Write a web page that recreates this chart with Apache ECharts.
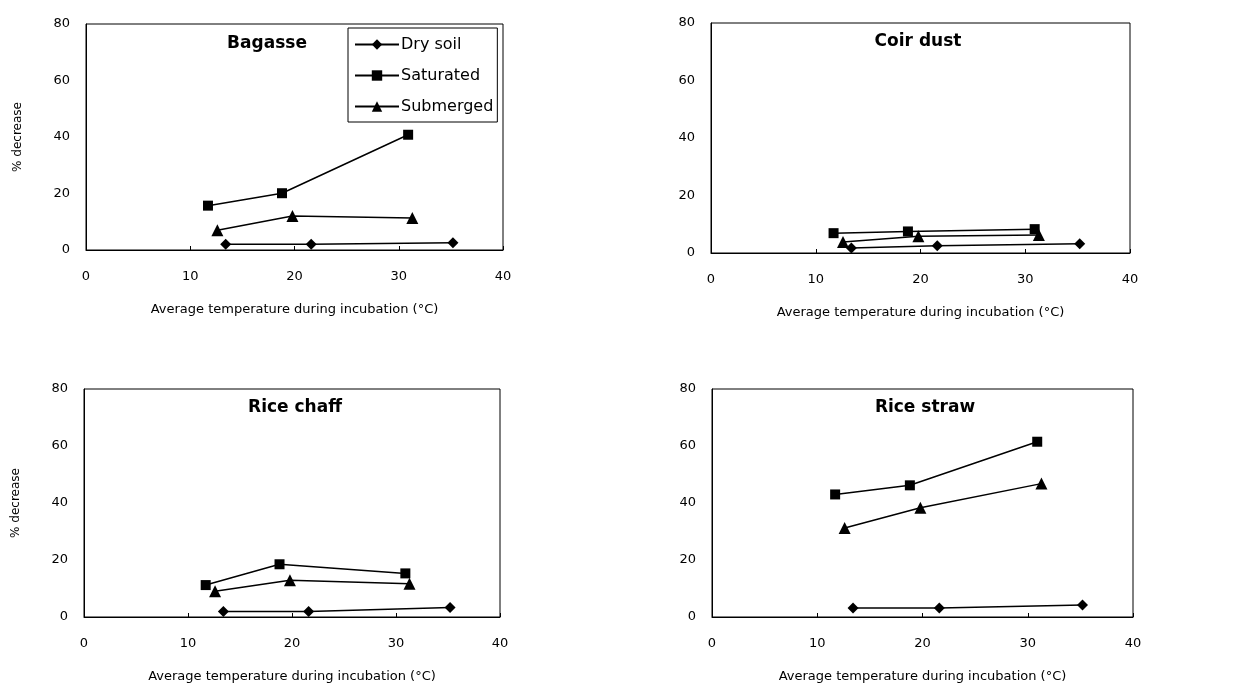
<!DOCTYPE html>
<html><head><meta charset="utf-8">
<script src="https://cdn.jsdelivr.net/npm/echarts@6/dist/echarts.min.js"></script>
<style>html,body{margin:0;padding:0;background:#fff}#c{width:1236px;height:684px}</style>
</head><body><div id="c"></div>
<script>
const seriesNames = ['Dry soil', 'Saturated', 'Submerged'];
const panelTitles = ['Bagasse', 'Coir dust', 'Rice chaff', 'Rice straw'];
const xTicks = [0, 10, 20, 30, 40];
const yTicks = [0, 20, 40, 60, 80];
// temperatures (°C) for each moisture condition
const xDry = [13.4, 21.6, 35.2];
const xSat = [11.7, 18.8, 30.9];
const xSub = [12.6, 19.8, 31.3];
// % decrease
const bagasseDry = [2.0, 2.0, 2.6];
const bagasseSat = [15.7, 20.1, 40.8];
const bagasseSub = [7.0, 12.0, 11.3];
const coirDry = [1.7, 2.5, 3.2];
const coirSat = [6.9, 7.5, 8.3];
const coirSub = [3.8, 5.8, 6.3];
const chaffDry = [1.9, 1.9, 3.3];
const chaffSat = [11.2, 18.5, 15.3];
const chaffSub = [9.0, 12.9, 11.7];
const strawDry = [3.2, 3.2, 4.2];
const strawSat = [43.0, 46.2, 61.5];
const strawSub = [31.2, 38.3, 46.8];

const panels = [
  [bagasseDry, bagasseSat, bagasseSub],
  [coirDry, coirSat, coirSub],
  [chaffDry, chaffSat, chaffSub],
  [strawDry, strawSat, strawSub]
];
const xs = [xDry, xSat, xSub];
const symbols = ['diamond', 'rect', 'triangle'];
const symbolSizes = [11, 10, 12];

const grids = [
  {left: 86, top: 24, width: 417, height: 226},
  {left: 711, top: 23, width: 419, height: 230},
  {left: 84, top: 389, width: 416, height: 229},
  {left: 712, top: 389, width: 421, height: 230}
];
const titlePos = [[267, 35], [918, 33], [295, 399], [925, 399]];
const font = 'DejaVu Sans';

const option = {
  backgroundColor: '#fff',
  animation: false,
  title: panelTitles.map((t, i) => ({
    text: t, left: titlePos[i][0], top: titlePos[i][1], textAlign: 'center', padding: 0,
    textStyle: {fontFamily: font, fontWeight: 'bold', fontSize: 17, color: '#000'}
  })),
  legend: {
    data: seriesNames, orient: 'vertical', left: 348, top: 28,
    padding: [7, 4, 6, 6], itemGap: 12, itemWidth: 44, itemHeight: 13,
    borderColor: '#000', borderWidth: 1, backgroundColor: '#fff',
    textStyle: {fontFamily: font, fontSize: 16, color: '#000', lineHeight: 19, padding: [0, 0, 0, -3]}
  },
  grid: grids.map(g => Object.assign({show: true, borderColor: '#000', borderWidth: 1, backgroundColor: '#fff'}, g)),
  xAxis: grids.map((g, i) => ({
    gridIndex: i, type: 'value', min: xTicks[0], max: xTicks[xTicks.length - 1], interval: 10,
    name: 'Average temperature during incubation (°C)', nameLocation: 'middle', nameGap: 53,
    nameTextStyle: {fontFamily: font, fontSize: 13, color: '#000'},
    axisLine: {show: true, lineStyle: {color: '#000', width: 1}},
    axisTick: {show: true, inside: true, length: 4, lineStyle: {color: '#000'}},
    axisLabel: {fontFamily: font, fontSize: 13, color: '#000', margin: 20},
    splitLine: {show: false}
  })),
  yAxis: grids.map((g, i) => ({
    gridIndex: i, type: 'value', min: yTicks[0], max: yTicks[yTicks.length - 1], interval: 20,
    name: (i % 2 === 0) ? '% decrease' : '', nameLocation: 'middle', nameGap: 62, nameRotate: 90,
    nameTextStyle: {fontFamily: font, fontSize: 12, color: '#000'},
    axisLine: {show: true, lineStyle: {color: '#000', width: 1}},
    axisTick: {show: false},
    axisLabel: {fontFamily: font, fontSize: 13, color: '#000', margin: 16},
    splitLine: {show: false}
  })),
  series: []
};

panels.forEach((vals, p) => {
  vals.forEach((v, s) => {
    option.series.push({
      name: seriesNames[s], type: 'line', xAxisIndex: p, yAxisIndex: p,
      data: v.map((y, k) => [xs[s][k], y]),
      symbol: symbols[s], symbolSize: symbolSizes[s],
      lineStyle: {color: '#000', width: 1.5},
      itemStyle: {color: '#000'}
    });
  });
});

echarts.init(document.getElementById('c')).setOption(option);
</script></body></html>
